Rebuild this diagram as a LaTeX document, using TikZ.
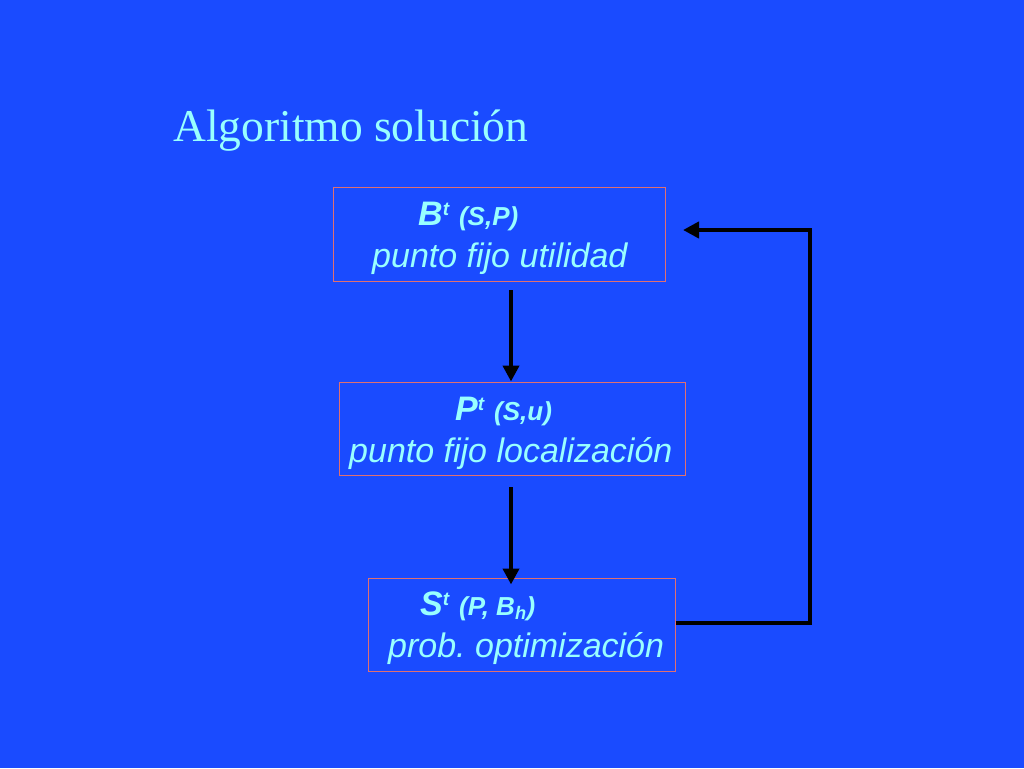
\documentclass[tikz,border=0pt]{standalone}
\usepackage{fontspec}
\setmainfont{Liberation Serif}
\setsansfont{Liberation Sans}
\usetikzlibrary{arrows.meta}
\definecolor{bg}{HTML}{1A4BFF}
\definecolor{tx}{HTML}{99FFFF}
\definecolor{bd}{HTML}{E07070}
\tikzset{x=1pt,y=-1pt,
 box/.style={draw=bd,line width=1pt},
 big/.style={text=tx,font=\sffamily\itshape\fontsize{34}{36}\selectfont,anchor=base west,inner sep=0},
 arr/.style={line width=4pt,-{Triangle[length=16pt,width=16pt]}},
 ln/.style={line width=4pt}}
\newcommand{\sm}{\bfseries\fontsize{26}{27}\selectfont}
\begin{document}
\frenchspacing
\begin{tikzpicture}
\fill[bg] (0,0) rectangle (1024,768);
\node[anchor=base west,inner sep=0,text=tx,font=\fontsize{45.5}{47}\selectfont] (title) at (173,141) {Algoritmo solución};
\node[box,minimum width=332pt,minimum height=94pt] (B) at (499,234) {};
\node[box,minimum width=346pt,minimum height=93pt] (P) at (512,428.5) {};
\node[box,minimum width=307pt,minimum height=93pt] (S) at (521.5,624.5) {};
\node[big] (b1) at (418,225) {\bfseries B\textsuperscript{\fontsize{19}{20}\selectfont t} {\sm(S,P)}};
\node[big] (b2) at (372,267) {punto fijo utilidad};
\node[big] (p1) at (455,420) {\bfseries P\textsuperscript{\fontsize{19}{20}\selectfont t} {\sm(S,u)}};
\node[big] (p2) at (349,462) {punto fijo localización};
\node[big] (s1) at (420,615) {\bfseries S\textsuperscript{\fontsize{19}{20}\selectfont t} {\sm(P, B\textsubscript{h})}};
\node[big] (s2) at (388,657) {prob.\ optimización};
\coordinate (c1) at (511,290);
\coordinate (c2) at (511,487);
\draw[arr] (c1) -- (P.north -| c1);
\draw[arr] (c2) -- ([yshift=-7pt]S.north -| c2);
\coordinate (r1) at (810,623);
\coordinate (r2) at (810,230);
\draw[ln,line join=miter] (S.east |- r1) -- (r1) -- (r2) -- (730,230);
\draw[arr] (r2) -- (683,230);
\end{tikzpicture}
\end{document}
